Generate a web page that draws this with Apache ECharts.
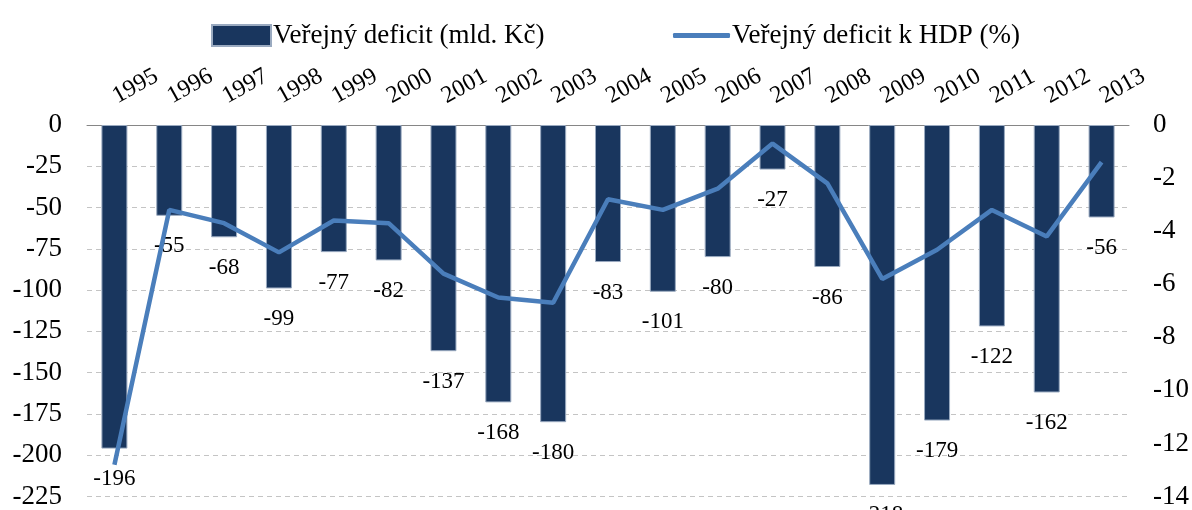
<!DOCTYPE html>
<html>
<head>
<meta charset="utf-8">
<script src="https://cdn.jsdelivr.net/npm/echarts@6/dist/echarts.min.js"></script>
<style>
  html, body { margin: 0; padding: 0; background: #fff; }
  #main { width: 1192px; height: 510px; }
</style>
</head>
<body>
<div id="main"></div>
<script>
// roky
var years = ['1995', '1996', '1997', '1998', '1999', '2000', '2001', '2002', '2003', '2004',
             '2005', '2006', '2007', '2008', '2009', '2010', '2011', '2012', '2013'];
// deficit v mld. Kč (sloupce)
var deficitCzk = [-196, -55, -68, -99, -77, -82, -137, -168, -180, -83,
                  -101, -80, -27, -86, -218, -179, -122, -162, -56];
// deficit k HDP v % (čára)
var deficitGdp = [-12.8, -3.2, -3.7, -4.8, -3.6, -3.7, -5.6, -6.5, -6.7, -2.8,
                  -3.2, -2.4, -0.7, -2.2, -5.8, -4.7, -3.2, -4.2, -1.4];

var nameBar = 'Veřejný deficit (mld. Kč)';
var nameLine = 'Veřejný deficit k HDP (%)';
var font = "'Liberation Serif', 'Times New Roman', serif";

var myChart = echarts.init(document.getElementById('main'));

myChart.setOption({
    animation: false,
    textStyle: { fontFamily: font, color: '#000' },
    legend: [
        {
            left: 206, top: 17,
            data: [{ name: nameBar, icon: 'rect' }],
            itemWidth: 59, itemHeight: 21, itemGap: 0,
            textStyle: { fontFamily: font, fontSize: 27, color: '#000', padding: [0, 0, 0, -3] }
        },
        {
            left: 668, top: 17,
            data: [{ name: nameLine, icon: 'roundRect' }],
            itemWidth: 57, itemHeight: 5, itemGap: 0,
            itemStyle: { color: '#4A7EBB' },
            textStyle: { fontFamily: font, fontSize: 27, color: '#000', padding: [0, 0, 0, -3] }
        }
    ],
    grid: { left: 87, right: 63, top: 125, bottom: 11 },
    xAxis: {
        type: 'category',
        position: 'top',
        data: years,
        axisLine: { lineStyle: { color: '#868686', width: 1 } },
        axisTick: { length: 7, lineStyle: { color: '#868686' } },
        axisLabel: {
            rotate: 29, margin: 27, interval: 0,
            fontFamily: font, fontSize: 24, color: '#000'
        }
    },
    yAxis: [
        {
            type: 'value',
            min: -225, max: 0, interval: 25,
            axisLine: { show: false },
            axisTick: { show: false },
            axisLabel: { fontFamily: font, fontSize: 27, color: '#000', margin: 25 },
            splitLine: { lineStyle: { color: '#C4C4C4', type: [5, 4], width: 1 } }
        },
        {
            type: 'value',
            min: -14, max: 0, interval: 2,
            axisLine: { show: false },
            axisTick: { show: false },
            axisLabel: { fontFamily: font, fontSize: 27, color: '#000', margin: 24 },
            splitLine: { show: false }
        }
    ],
    series: [
        {
            name: nameBar,
            type: 'bar',
            yAxisIndex: 0,
            data: deficitCzk,
            barWidth: 26,
            itemStyle: { color: '#19365E', borderColor: '#9AAAC0', borderWidth: 1 },
            label: {
                show: true,
                position: 'bottom',
                distance: 19,
                fontFamily: font, fontSize: 23, color: '#000'
            },
            z: 2
        },
        {
            name: nameLine,
            type: 'line',
            yAxisIndex: 1,
            data: deficitGdp,
            symbol: 'none',
            lineStyle: { color: '#4A7EBB', width: 4.5 },
            itemStyle: { color: '#4A7EBB' },
            z: 3
        }
    ]
});
</script>
</body>
</html>
